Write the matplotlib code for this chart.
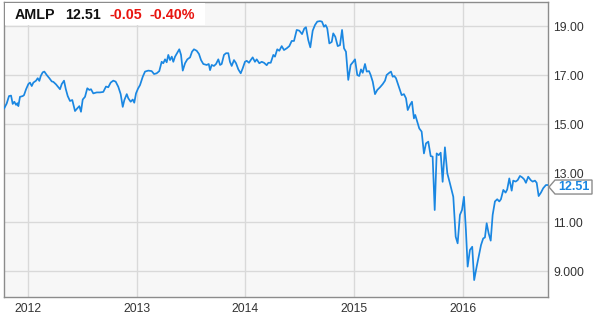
import matplotlib
matplotlib.use("Agg")
import matplotlib.pyplot as plt
from matplotlib.patches import Polygon, Rectangle
from matplotlib.transforms import IdentityTransform

# ---- data (decimal years, price) ----
years = [
    2011.781, 2011.804, 2011.825, 2011.844, 2011.859, 2011.874, 2011.890, 2011.902, 2011.911, 2011.926,
    2011.951, 2011.963, 2011.982, 2012.003, 2012.018, 2012.034, 2012.049, 2012.074, 2012.089, 2012.104,
    2012.117, 2012.135, 2012.150, 2012.172, 2012.196, 2012.218, 2012.233, 2012.257, 2012.279, 2012.294,
    2012.310, 2012.331, 2012.347, 2012.365, 2012.386, 2012.407, 2012.432, 2012.453, 2012.472, 2012.487,
    2012.503, 2012.524, 2012.545, 2012.564, 2012.579, 2012.600, 2012.632, 2012.662, 2012.692, 2012.717,
    2012.738, 2012.760, 2012.784, 2012.806, 2012.830, 2012.852, 2012.871, 2012.886, 2012.908, 2012.922,
    2012.944, 2012.963, 2012.977, 2012.993, 2013.012, 2013.030, 2013.055, 2013.076, 2013.106, 2013.137,
    2013.159, 2013.183, 2013.207, 2013.229, 2013.244, 2013.260, 2013.275, 2013.290, 2013.306, 2013.322,
    2013.336, 2013.352, 2013.373, 2013.391, 2013.407, 2013.423, 2013.444, 2013.465, 2013.490, 2013.508,
    2013.526, 2013.551, 2013.572, 2013.591, 2013.612, 2013.643, 2013.662, 2013.674, 2013.689, 2013.710,
    2013.729, 2013.750, 2013.766, 2013.781, 2013.802, 2013.821, 2013.842, 2013.857, 2013.873, 2013.894,
    2013.913, 2013.934, 2013.956, 2013.974, 2013.995, 2014.011, 2014.032, 2014.048, 2014.066, 2014.087,
    2014.103, 2014.127, 2014.149, 2014.170, 2014.195, 2014.210, 2014.232, 2014.256, 2014.271, 2014.292,
    2014.311, 2014.333, 2014.354, 2014.379, 2014.403, 2014.425, 2014.446, 2014.471, 2014.495, 2014.520,
    2014.541, 2014.556, 2014.577, 2014.596, 2014.618, 2014.639, 2014.660, 2014.685, 2014.703, 2014.722,
    2014.737, 2014.752, 2014.771, 2014.793, 2014.807, 2014.826, 2014.848, 2014.869, 2014.888, 2014.906,
    2014.924, 2014.945, 2014.967, 2014.991, 2015.007, 2015.028, 2015.046, 2015.062, 2015.078, 2015.099,
    2015.115, 2015.136, 2015.151, 2015.170, 2015.191, 2015.212, 2015.237, 2015.262, 2015.283, 2015.298,
    2015.322, 2015.338, 2015.354, 2015.368, 2015.384, 2015.405, 2015.420, 2015.436, 2015.457, 2015.476,
    2015.492, 2015.513, 2015.531, 2015.549, 2015.561, 2015.580, 2015.598, 2015.620, 2015.641, 2015.660,
    2015.681, 2015.703, 2015.721, 2015.740, 2015.758, 2015.777, 2015.795, 2015.813, 2015.834, 2015.856,
    2015.880, 2015.911, 2015.933, 2015.951, 2015.972, 2015.991, 2016.009, 2016.027, 2016.043, 2016.064,
    2016.085, 2016.103, 2016.126, 2016.147, 2016.166, 2016.186, 2016.202, 2016.218, 2016.236, 2016.255,
    2016.273, 2016.294, 2016.315, 2016.334, 2016.349, 2016.371, 2016.392, 2016.407, 2016.426, 2016.448,
    2016.462, 2016.484, 2016.503, 2016.524, 2016.545, 2016.563, 2016.579, 2016.600, 2016.623, 2016.641,
    2016.662, 2016.678, 2016.696, 2016.717, 2016.738, 2016.763, 2016.782,
]
prices = [
    15.64, 15.84, 16.14, 16.16, 15.82, 15.91, 15.78, 15.85, 15.73, 16.11,
    16.14, 16.18, 16.42, 16.63, 16.69, 16.55, 16.69, 16.77, 16.87, 16.76,
    16.96, 17.11, 17.14, 17.00, 16.87, 16.74, 16.72, 16.62, 16.50, 16.42,
    16.63, 16.77, 16.43, 16.14, 15.94, 15.98, 15.53, 15.64, 15.73, 15.50,
    16.00, 16.11, 16.46, 16.39, 16.42, 16.25, 16.29, 16.29, 16.31, 16.53,
    16.50, 16.69, 16.77, 16.73, 16.52, 16.22, 15.70, 15.98, 16.22, 16.05,
    15.91, 16.00, 15.87, 16.25, 16.45, 16.59, 16.93, 17.14, 17.18, 17.16,
    17.04, 17.07, 17.16, 17.54, 17.48, 17.64, 17.52, 17.82, 17.61, 17.75,
    17.54, 17.75, 17.91, 18.05, 17.82, 17.18, 17.48, 17.64, 17.72, 17.95,
    18.05, 17.99, 17.86, 17.61, 17.45, 17.41, 17.45, 17.20, 17.41, 17.37,
    17.45, 17.64, 17.41, 17.45, 17.82, 17.89, 17.89, 17.54, 17.37, 17.61,
    17.48, 17.23, 17.07, 17.27, 17.54, 17.58, 17.50, 17.61, 17.72, 17.54,
    17.64, 17.48, 17.54, 17.50, 17.40, 17.50, 17.50, 17.82, 17.75, 18.05,
    17.99, 18.18, 18.02, 18.09, 18.18, 18.39, 18.39, 18.84, 18.81, 18.67,
    18.90, 18.95, 18.43, 18.13, 18.81, 19.04, 19.18, 19.20, 19.18, 18.97,
    19.04, 18.90, 18.29, 18.35, 18.70, 18.56, 18.18, 18.22, 18.84, 18.09,
    17.95, 16.80, 17.41, 17.54, 17.64, 17.00, 16.96, 17.23, 17.09, 17.45,
    17.14, 17.16, 17.00, 16.73, 16.22, 16.39, 16.50, 16.63, 16.77, 17.00,
    17.09, 17.14, 16.93, 16.96, 16.87, 16.59, 16.39, 16.18, 16.22, 16.05,
    15.57, 15.78, 15.91, 15.23, 15.37, 15.09, 14.82, 14.69, 13.80, 14.21,
    14.28, 13.69, 13.67, 11.49, 13.80, 13.73, 13.83, 12.64, 14.05, 12.99,
    12.58, 12.03, 10.40, 10.13, 11.29, 11.49, 12.03, 10.67, 9.18, 9.86,
    9.99, 8.63, 9.18, 9.65, 10.06, 10.33, 10.37, 10.95, 10.54, 10.24,
    11.29, 11.84, 11.93, 11.84, 11.93, 12.31, 12.20, 12.33, 12.78, 12.28,
    12.69, 12.65, 12.71, 12.88, 12.82, 12.74, 12.60, 12.85, 12.71, 12.65,
    12.69, 12.60, 12.06, 12.20, 12.38, 12.51, 12.51,
]
x_ticks = [2012, 2013, 2014, 2015, 2016]
x_tick_labels = ["2012", "2013", "2014", "2015", "2016"]
y_ticks = [9, 11, 13, 15, 17, 19]
y_tick_labels = ["9.000", "11.00", "13.00", "15.00", "17.00", "19.00"]
ticker = "AMLP"
last_price = "12.51"
change = "-0.05"
change_pct = "-0.40%"

W, H = 612, 320
fig = plt.figure(figsize=(W / 100, H / 100), dpi=100)
fig.patch.set_facecolor("white")
ax = fig.add_axes([4 / W, (H - 297) / H, (548 - 4) / W, (297 - 2) / H])
ax.set_facecolor("#f7f7f7")

LINE = "#1a87e2"
ax.plot(years, prices, color=LINE, lw=1.25, solid_joinstyle="round", zorder=3)

ax.set_xlim(2011.779, 2016.782)
ax.set_ylim(7.94, 19.98)

ax.set_xticks(x_ticks)
ax.set_xticklabels(x_tick_labels)
ax.set_yticks(y_ticks)
ax.set_yticklabels(y_tick_labels)
ax.yaxis.tick_right()
ax.tick_params(axis="both", length=0, labelsize=8.7, labelcolor="#333333")
ax.tick_params(axis="y", pad=4)
ax.tick_params(axis="x", pad=4)
for lab in ax.get_xticklabels() + ax.get_yticklabels():
    lab.set_fontfamily("Liberation Sans")

ax.grid(True, color="#d9d9d9", lw=1.0)
ax.set_axisbelow(True)
for s in ax.spines.values():
    s.set_color("#8c8c8c")
    s.set_linewidth(1.0)

# header box
fig.add_artist(Rectangle((5, H - 25), 200, 22, transform=IdentityTransform(),
                         facecolor="white", edgecolor="none", zorder=5))
hy = H - 15
fkw = dict(transform=IdentityTransform(), va="center", ha="left",
           fontfamily="Liberation Sans", fontweight="bold", fontsize=10.3, zorder=6)
fig.text(15, hy, ticker, color="#111111", **fkw)
fig.text(65, hy, last_price, color="#111111", **fkw)
fig.text(109, hy, change, color="#e8140f", **fkw)
fig.text(149, hy, change_pct, color="#e8140f", **fkw)

# last price label
fig.canvas.draw()
px, py = ax.transData.transform((years[-1], prices[-1]))
py = py - 2
poly = [(px + 1, py), (px + 7, py + 7), (px + 44, py + 7), (px + 44, py - 7), (px + 7, py - 7)]
fig.add_artist(Polygon(poly, closed=True, transform=IdentityTransform(),
                       facecolor="white", edgecolor="#8c8c8c", lw=1.0, zorder=7))
fig.text(px + 25.5, py, last_price, transform=IdentityTransform(), ha="center", va="center",
         color=LINE, fontfamily="Liberation Sans", fontweight="bold", fontsize=9, zorder=8)

fig.savefig("out.png", dpi=100)
